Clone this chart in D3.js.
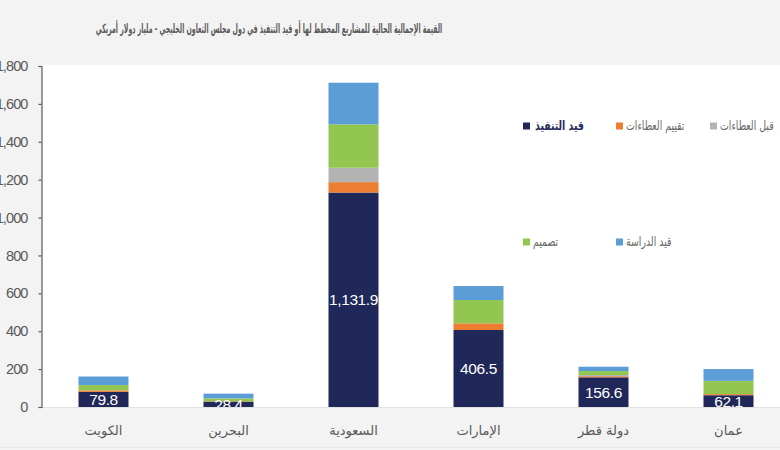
<!DOCTYPE html>
<html>
<head>
    <meta charset="utf-8">
    <script src="https://d3js.org/d3.v7.min.js"></script>
    <style>
        body {
            margin: 0;
            padding: 0;
            background: #f3f3f3;
        }
        .title {
            font-family: "DejaVu Sans", sans-serif;
            font-size: 13px;
            font-weight: bold;
            fill: #5a5a5a;
        }
        .yaxis text {
            font-family: "Liberation Sans", sans-serif;
            font-size: 14.5px;
            letter-spacing: -0.9px;
            fill: #595959;
        }
        .yaxis path, .yaxis line {
            stroke: #595959;
            stroke-width: 1.2;
        }
        .cat {
            font-family: "DejaVu Sans", sans-serif;
            font-size: 13px;
            fill: #595959;
        }
        .val {
            font-family: "Liberation Sans", sans-serif;
            font-size: 15.5px;
            letter-spacing: -0.4px;
            fill: #ffffff;
        }
        .leg {
            font-family: "DejaVu Sans", sans-serif;
            font-size: 13px;
            fill: #6a6a6a;
        }
    </style>
</head>
<body>
<div id="chart"></div>
<script>
// data (billion USD)
var countries = ["الكويت", "البحرين", "السعودية", "الإمارات", "دولة قطر", "عمان"];
var seriesNames = ["قيد التنفيذ", "تقييم العطاءات", "قبل العطاءات", "تصميم", "قيد الدراسة"];
var execution = [79.8, 28.4, 1131.9, 406.5, 156.6, 62.1];
var tenderEval = [8, 2, 55, 35, 6, 6];
var preTender = [0, 0, 76, 0, 6, 0];
var design = [28, 15, 229, 123, 21, 70];
var study = [45, 25, 220, 74, 23, 62];
var yTicks = [0, 200, 400, 600, 800, 1000, 1200, 1400, 1600, 1800];
var colors = ["#1f2859", "#ed7d31", "#b3b3b3", "#92c650", "#5b9dd7"];

var W = 780, H = 450;
var svg = d3.select("#chart").append("svg")
    .attr("width", W)
    .attr("height", H);

// table for d3.stack
var keys = ["execution", "tenderEval", "preTender", "design", "study"];
var table = countries.map(function(c, i) {
    return {country: c, execution: execution[i], tenderEval: tenderEval[i],
            preTender: preTender[i], design: design[i], study: study[i]};
});
var stacked = d3.stack().keys(keys)(table);

var x = d3.scaleBand()
    .domain(countries)
    .range([41, 791])
    .paddingInner(0.6)
    .paddingOuter(0.3);

var y = d3.scaleLinear()
    .domain([0, 1800])
    .range([407, 66]);

// white plot area
svg.append("rect")
    .attr("x", 42).attr("y", 65)
    .attr("width", W - 42).attr("height", 407 - 65)
    .attr("fill", "#ffffff");

// title; DejaVu arabic is wide, so it is squeezed horizontally
svg.append("text")
    .attr("class", "title")
    .attr("transform", "translate(269,33) scale(0.48,1)")
    .attr("text-anchor", "middle")
    .text("القيمة الإجمالية الحالية للمشاريع المخطط لها أو قيد التنفيذ في دول مجلس التعاون الخليجي - مليار دولار أمريكي");

// bars
var layers = svg.selectAll(".layer")
    .data(stacked)
    .enter().append("g")
    .attr("class", "layer")
    .attr("fill", function(d, i) { return colors[i]; });

layers.selectAll("rect")
    .data(function(d) { return d; })
    .enter().append("rect")
    .attr("x", function(d) { return x(d.data.country); })
    .attr("y", function(d) { return y(d[1]); })
    .attr("width", x.bandwidth())
    .attr("height", function(d) { return y(d[0]) - y(d[1]); });

// value labels in the execution segment
svg.selectAll(".val")
    .data(table)
    .enter().append("text")
    .attr("class", "val")
    .attr("x", function(d) { return x(d.country) + x.bandwidth() / 2; })
    .attr("y", function(d) { return (y(0) + y(d.execution)) / 2; })
    .attr("dy", "0.36em")
    .attr("text-anchor", "middle")
    .text(function(d) { return d3.format(",.1f")(d.execution); });

// bottom band covers the label overflow
svg.append("rect")
    .attr("x", 0).attr("y", 407)
    .attr("width", W).attr("height", H - 407)
    .attr("fill", "#f3f3f3");
svg.append("line")
    .attr("x1", 42).attr("x2", W)
    .attr("y1", 407.5).attr("y2", 407.5)
    .attr("stroke", "#e2e2e2");
svg.append("line")
    .attr("x1", 0).attr("x2", W)
    .attr("y1", 447.5).attr("y2", 447.5)
    .attr("stroke", "#e6e6e6");

// y axis
svg.append("g")
    .attr("class", "yaxis")
    .attr("transform", "translate(41.5,0)")
    .call(d3.axisLeft(y).tickValues(yTicks).tickSize(3).tickSizeOuter(3)
        .tickPadding(11).tickFormat(d3.format(",")));

// category labels
svg.selectAll(".cat")
    .data(countries)
    .enter().append("text")
    .attr("class", "cat")
    .attr("x", function(d) { return x(d) + x.bandwidth() / 2; })
    .attr("y", 435)
    .attr("text-anchor", "middle")
    .text(function(d) { return d; });

// legend
var legPos = [[523, 126], [616, 126], [710, 126], [523, 242], [616, 242]];
var leg = svg.selectAll(".legitem")
    .data(seriesNames)
    .enter().append("g")
    .attr("class", "legitem")
    .attr("transform", function(d, i) { return "translate(" + legPos[i][0] + "," + legPos[i][1] + ")"; });

leg.append("rect")
    .attr("x", 0).attr("y", -3.5)
    .attr("width", 7).attr("height", 7)
    .attr("fill", function(d, i) { return colors[i]; });

leg.append("text")
    .attr("class", "leg")
    .attr("transform", function(d, i) { return "translate(" + (i === 0 ? 12 : 10) + ",0) scale(0.72,1)"; })
    .attr("dy", "0.3em")
    .style("fill", function(d, i) { return i === 0 ? "#1f2859" : null; })
    .style("font-weight", function(d, i) { return i === 0 ? "bold" : null; })
    .text(function(d) { return d; });
</script>
</body>
</html>
